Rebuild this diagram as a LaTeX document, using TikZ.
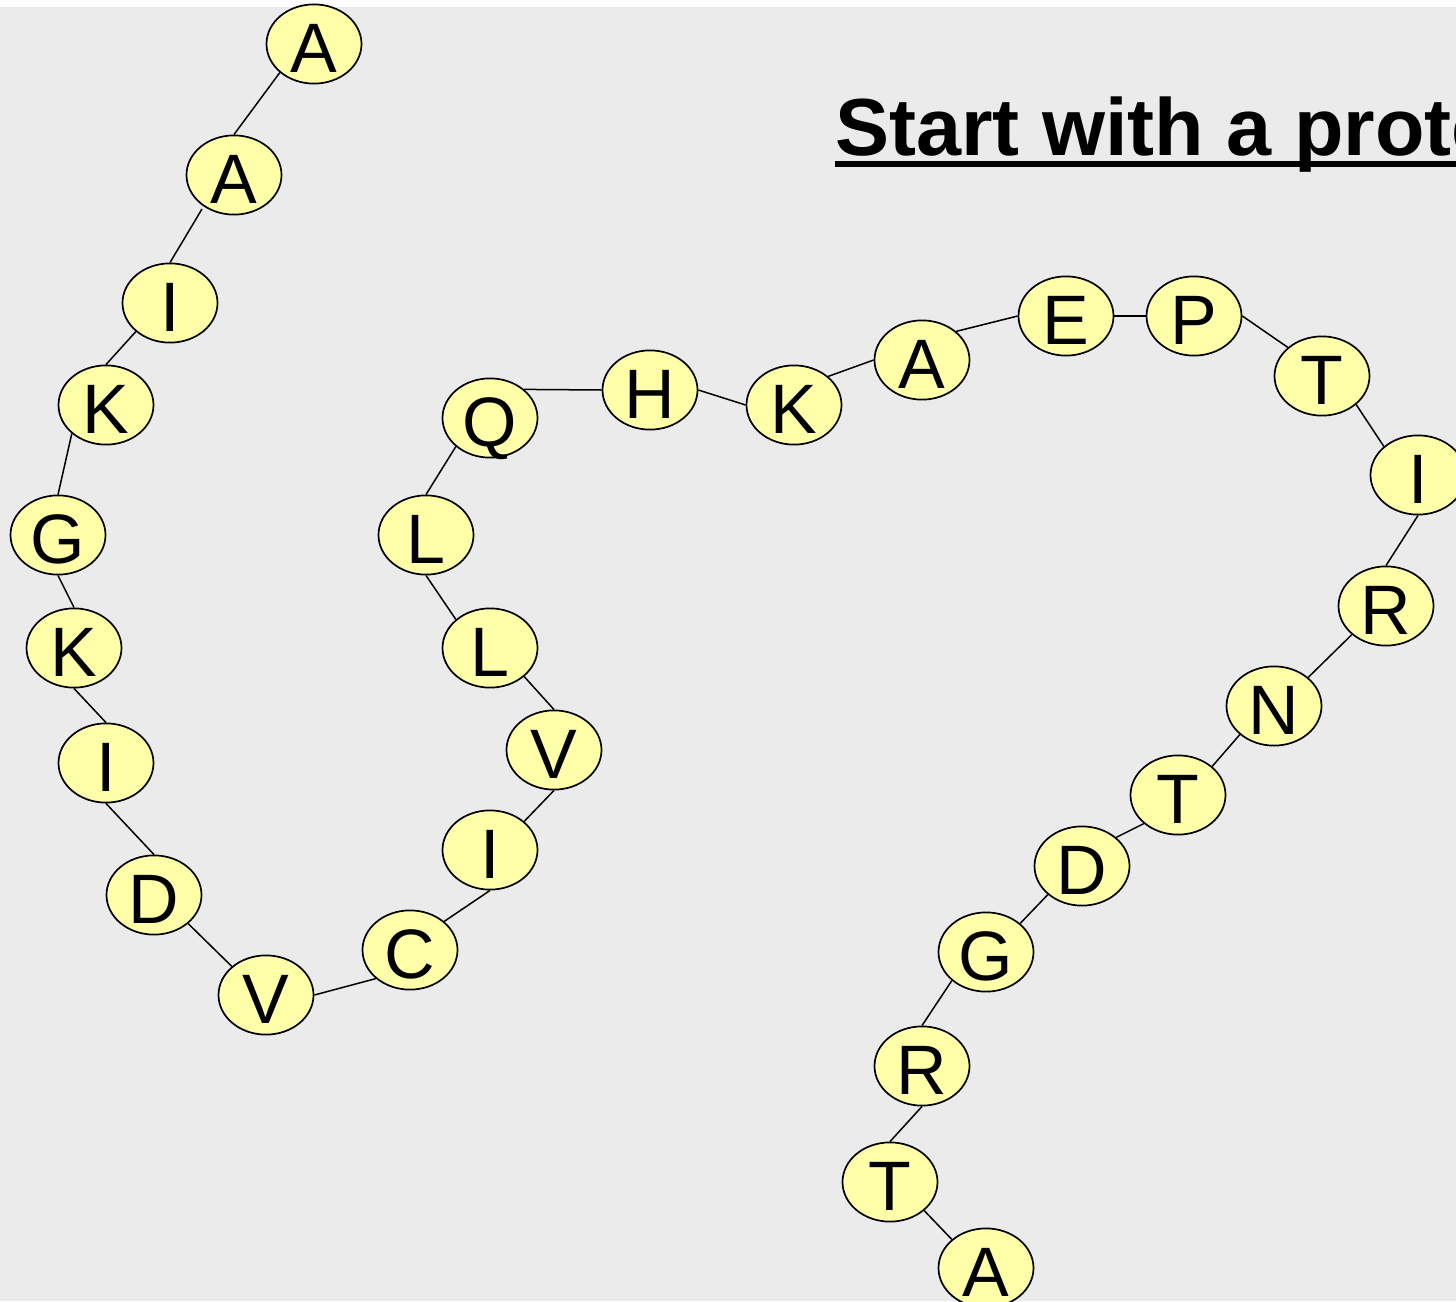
\documentclass[tikz,border=0pt]{standalone}
\usepackage{fontspec}
\setmainfont{Liberation Sans}
\usetikzlibrary{shapes.geometric}
\definecolor{bggray}{HTML}{EBEBEB}
\definecolor{aafill}{HTML}{FFFFAA}
\tikzset{
  aa/.style={ellipse, draw=black, line width=1.7pt, fill=aafill, inner sep=0pt,
    minimum width=95pt, minimum height=71pt, text height=56pt, text depth=0pt,
    font=\fontsize{70}{84}\selectfont},
  bond/.style={draw=black, line width=1.5pt}
}
\begin{document}
\begin{tikzpicture}[x=1pt,y=-1pt]
\useasboundingbox (0,0) rectangle (1456,1301);
\clip (0,0) rectangle (1456,1301);
\fill[white] (0,0) rectangle (1456,7);
\fill[bggray] (0,7) rectangle (1456,1301);
\node[anchor=base west, font=\fontsize{81}{96}\selectfont\bfseries, inner sep=0pt] (title) at (835,155) {Start with a protein};
\draw[line width=6pt] (835,164) -- (1470,164);
% nodes
\node[aa] (n1) at (314,44) {A};
\node[aa] (n2) at (234,175) {A};
\node[aa] (n3) at (170,303) {I};
\node[aa] (n4) at (106,405) {K};
\node[aa] (n5) at (58,535) {G};
\node[aa] (n6) at (74,648) {K};
\node[aa] (n7) at (106,763) {I};
\node[aa] (n8) at (154,895) {D};
\node[aa] (n9) at (266,995) {V};
\node[aa] (n10) at (410,950) {C};
\node[aa] (n11) at (490,850) {I};
\node[aa] (n12) at (554,750) {V};
\node[aa] (n13) at (490,648) {L};
\node[aa] (n14) at (426,535) {L};
\node[aa] (n15) at (490,418) {Q};
\node[aa] (n16) at (650,390) {H};
\node[aa] (n17) at (794,405) {K};
\node[aa] (n18) at (922,360) {A};
\node[aa] (n19) at (1066,316) {E};
\node[aa] (n20) at (1194,316) {P};
\node[aa] (n21) at (1322,376) {T};
\node[aa] (n22) at (1418,475) {I};
\node[aa] (n23) at (1386,606) {R};
\node[aa] (n24) at (1274,706) {N};
\node[aa] (n25) at (1178,795) {T};
\node[aa] (n26) at (1082,866) {D};
\node[aa] (n27) at (986,952) {G};
\node[aa] (n28) at (922,1066) {R};
\node[aa] (n29) at (890,1182) {T};
\node[aa] (n30) at (986,1268) {A};
\coordinate (a2end) at (202,209);
% bonds
\draw[bond] (n1.south west) -- (n2.north);
\draw[bond] (a2end) -- (n3.north);
\draw[bond] (n3.south west) -- (n4.north);
\draw[bond] (n4.south west) -- (n5.north);
\draw[bond] (n5.south) -- (n6.north);
\draw[bond] (n6.south) -- (n7.north);
\draw[bond] (n7.south) -- (n8.north);
\draw[bond] (n8.south east) -- (n9.north west);
\draw[bond] (n9.east) -- (n10.south west);
\draw[bond] (n10.north east) -- (n11.south);
\draw[bond] (n11.north east) -- (n12.south);
\draw[bond] (n12.north) -- (n13.south east);
\draw[bond] (n13.north west) -- (n14.south);
\draw[bond] (n14.north) -- (n15.south west);
\draw[bond] (n15.north east) -- (n16.west);
\draw[bond] (n16.east) -- (n17.west);
\draw[bond] (n17.north east) -- (n18.west);
\draw[bond] (n18.north east) -- (n19.west);
\draw[bond] (n19.east) -- (n20.west);
\draw[bond] (n20.east) -- (n21.north west);
\draw[bond] (n21.south east) -- (n22.north west);
\draw[bond] (n22.south) -- (n23.north);
\draw[bond] (n23.south west) -- (n24.north east);
\draw[bond] (n24.south west) -- (n25.north east);
\draw[bond] (n25.south west) -- (n26.north east);
\draw[bond] (n26.south west) -- (n27.north east);
\draw[bond] (n27.south west) -- (n28.north);
\draw[bond] (n28.south) -- (n29.north);
\draw[bond] (n29.south east) -- (n30.north west);
\end{tikzpicture}
\end{document}
